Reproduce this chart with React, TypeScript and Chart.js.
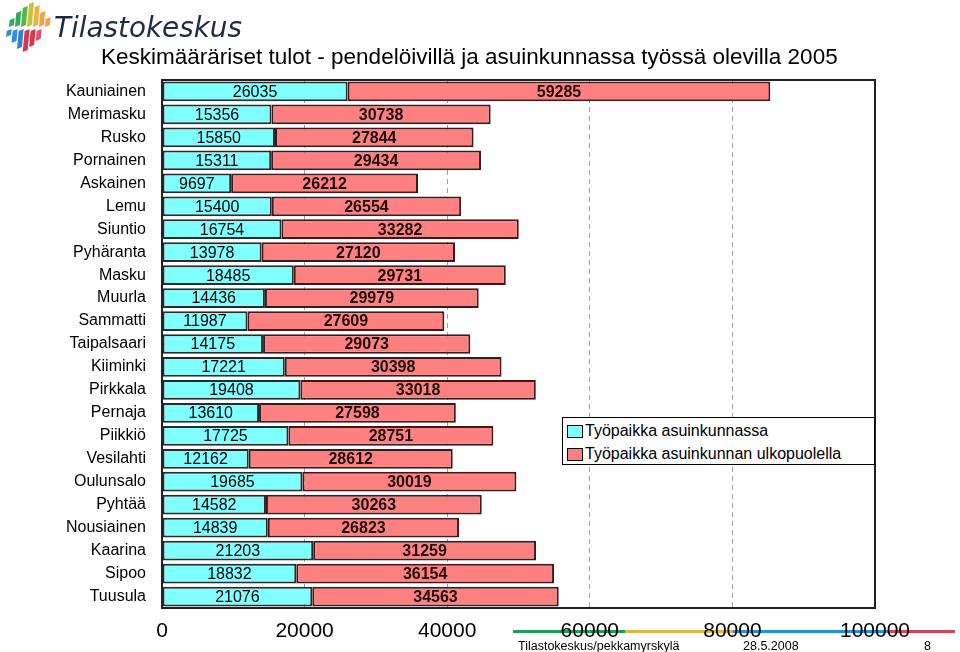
import React, { useEffect, useRef } from "react";
import { Chart, registerables } from "chart.js";

Chart.register(...registerables);

const categories = [
  "Kauniainen", "Merimasku", "Rusko", "Pornainen", "Askainen", "Lemu", "Siuntio",
  "Pyhäranta", "Masku", "Muurla", "Sammatti", "Taipalsaari", "Kiiminki", "Pirkkala",
  "Pernaja", "Piikkiö", "Vesilahti", "Oulunsalo", "Pyhtää", "Nousiainen", "Kaarina",
  "Sipoo", "Tuusula",
];
const inHomeMunicipality = [
  26035, 15356, 15850, 15311, 9697, 15400, 16754, 13978, 18485, 14436, 11987, 14175,
  17221, 19408, 13610, 17725, 12162, 19685, 14582, 14839, 21203, 18832, 21076,
];
const outsideHomeMunicipality = [
  59285, 30738, 27844, 29434, 26212, 26554, 33282, 27120, 29731, 29979, 27609, 29073,
  30398, 33018, 27598, 28751, 28612, 30019, 30263, 26823, 31259, 36154, 34563,
];
const seriesNames = ["Työpaikka asuinkunnassa", "Työpaikka asuinkunnan ulkopuolella"];
const titleText = "Keskimääräriset tulot - pendelöivillä ja asuinkunnassa työssä olevilla 2005";
const footerSource = "Tilastokeskus/pekkamyrskylä";
const footerDate = "28.5.2008";
const footerPage = "8";

const FONT = "Arial, 'Liberation Sans', sans-serif";
const CYAN = "#80FFFF";
const RED = "#FF8080";

const valueLabelPlugin = {
  id: "valueLabels",
  afterDatasetsDraw(chart: any) {
    const ctx = chart.ctx;
    ctx.save();
    ctx.textAlign = "center";
    ctx.textBaseline = "middle";
    chart.data.datasets.forEach((ds: any, di: number) => {
      const meta = chart.getDatasetMeta(di);
      ctx.font = di === 0 ? `16px ${FONT}` : `bold 16px ${FONT}`;
      ctx.fillStyle = di === 0 ? "#000" : "#1a1010";
      meta.data.forEach((el: any, i: number) => {
        const p = el.getProps(["x", "y", "base"], true);
        ctx.fillText(String(ds.data[i]), (p.x + p.base) / 2, p.y + 1);
      });
    });
    ctx.restore();
  },
};

const frameBorderPlugin = {
  id: "frameBorder",
  afterDatasetsDraw(chart: any) {
    const { ctx, chartArea: a } = chart;
    ctx.save();
    ctx.strokeStyle = "#222";
    ctx.lineWidth = 2;
    ctx.strokeRect(a.left, a.top, a.right - a.left, a.bottom - a.top);
    ctx.restore();
  },
};

function Logo() {
  const strips = [
    { x: 6, y1: 20, y2: 27, c: "#2eaa5c" },
    { x: 12, y1: 13, y2: 27, c: "#2eaa5c" },
    { x: 18, y1: 8, y2: 27, c: "#5bb548" },
    { x: 24, y1: 4, y2: 27, c: "#c9c23a" },
    { x: 30, y1: 7, y2: 27, c: "#e8b640" },
    { x: 36, y1: 13, y2: 27, c: "#eea44a" },
    { x: 42, y1: 19, y2: 27, c: "#eea44a" },
    { x: 4, y1: 31, y2: 37, c: "#2f8fde" },
    { x: 10, y1: 31, y2: 43, c: "#2f8fde" },
    { x: 16, y1: 31, y2: 49, c: "#3a7fd0" },
    { x: 22, y1: 31, y2: 52, c: "#d8384a" },
    { x: 28, y1: 31, y2: 47, c: "#d8384a" },
    { x: 34, y1: 31, y2: 41, c: "#e0506a" },
  ];
  return (
    <svg width={52} height={62} style={{ position: "absolute", left: 0, top: 0 }}>
      {strips.map((s, i) => {
        const sk = 0.09;
        const w = 5;
        const x1 = s.x + (60 - s.y1) * sk;
        const x2 = s.x + (60 - s.y2) * sk;
        return (
          <polygon
            key={i}
            points={`${x1},${s.y1} ${x1 + w},${s.y1 - 2} ${x2 + w},${s.y2 - 2} ${x2},${s.y2}`}
            fill={s.c}
          />
        );
      })}
    </svg>
  );
}

export default function App() {
  const canvasRef = useRef<HTMLCanvasElement | null>(null);

  useEffect(() => {
    if (!canvasRef.current) return;
    const chart = new Chart(canvasRef.current, {
      type: "bar",
      data: {
        labels: categories,
        datasets: [
          {
            label: seriesNames[0],
            data: inHomeMunicipality,
            backgroundColor: CYAN,
            borderColor: "#2a2a2a",
            borderWidth: 2,
            borderSkipped: false,
            barPercentage: 0.86,
            categoryPercentage: 1,
          },
          {
            label: seriesNames[1],
            data: outsideHomeMunicipality,
            backgroundColor: RED,
            borderColor: "#3a1a1a",
            borderWidth: 2,
            borderSkipped: false,
            barPercentage: 0.86,
            categoryPercentage: 1,
          },
        ],
      },
      options: {
        indexAxis: "y",
        responsive: false,
        animation: false,
        devicePixelRatio: 1,
        layout: { padding: { top: 80, right: 85, left: 0, bottom: 0 } },
        plugins: {
          legend: { display: false },
          title: { display: false },
          tooltip: { enabled: false },
        },
        scales: {
          x: {
            stacked: true,
            min: 0,
            max: 100000,
            afterFit: (s: any) => {
              s.height = 44;
            },
            ticks: {
              stepSize: 20000,
              font: { family: FONT, size: 21 },
              color: "#000",
              padding: 11,
              maxRotation: 0,
              autoSkip: false,
              callback: (v: any) => String(v),
            },
            grid: {
              drawTicks: false,
              color: (c: any) =>
                c.tick && (c.tick.value === 0 || c.tick.value === 100000) ? "rgba(0,0,0,0)" : "#a0a0a0",
              lineWidth: 1,
            },
            border: { display: false, dash: [5, 4] },
          },
          y: {
            stacked: true,
            afterFit: (s: any) => {
              s.width = 162;
            },
            ticks: {
              font: { family: FONT, size: 16 },
              color: "#000",
              padding: 16,
              autoSkip: false,
            },
            grid: { display: false, drawTicks: false },
            border: { display: false },
          },
        },
      },
      plugins: [valueLabelPlugin, frameBorderPlugin],
    } as any);
    return () => chart.destroy();
  }, []);

  const lineSegs = [
    { l: 513, r: 625, c: "#1a9e5a" },
    { l: 625, r: 733, c: "#e4b442" },
    { l: 733, r: 890, c: "#1e90e0" },
    { l: 890, r: 955, c: "#d2445a" },
  ];

  return (
    <div
      style={{
        position: "fixed",
        left: 0,
        top: 0,
        width: 960,
        height: 652,
        background: "#fff",
        overflow: "hidden",
        fontFamily: FONT,
      }}
    >
      {lineSegs.map((s, i) => (
        <div
          key={i}
          style={{ position: "absolute", left: s.l, top: 630, width: s.r - s.l, height: 3, background: s.c }}
        />
      ))}
      <canvas
        ref={canvasRef}
        width={960}
        height={652}
        style={{ position: "absolute", left: 0, top: 0, width: 960, height: 652 }}
      />
      <Logo />
      <div
        style={{
          position: "absolute",
          left: 54,
          top: 10,
          fontSize: 29,
          fontFamily: "'DejaVu Sans', sans-serif",
          fontStyle: "italic",
          color: "#1e2a48",
          lineHeight: "34px",
          whiteSpace: "nowrap",
          transform: "scaleX(0.96)",
          transformOrigin: "left",
        }}
      >
        Tilastokeskus
      </div>
      <div
        style={{
          position: "absolute",
          left: 101,
          top: 44,
          fontSize: 22.5,
          lineHeight: "26px",
          color: "#000",
          whiteSpace: "nowrap",
        }}
      >
        {titleText}
      </div>
      <div
        style={{
          position: "absolute",
          left: 562,
          top: 417,
          width: 311,
          height: 46,
          border: "1px solid #000",
          background: "#fff",
          fontSize: 16,
          color: "#000",
        }}
      >
        {seriesNames.map((n, i) => (
          <div
            key={i}
            style={{ position: "absolute", left: 4, top: 3 + i * 23, height: 20, display: "flex", alignItems: "center", whiteSpace: "nowrap" }}
          >
            <span
              style={{
                display: "inline-block",
                width: 14,
                height: 11,
                background: i === 0 ? CYAN : RED,
                border: "1px solid #000",
                marginRight: 2,
              }}
            />
            {n}
          </div>
        ))}
      </div>
      <div style={{ position: "absolute", left: 518, top: 638, fontSize: 12.5, lineHeight: "16px", whiteSpace: "nowrap" }}>
        {footerSource}
      </div>
      <div style={{ position: "absolute", left: 743, top: 638, fontSize: 12.5, lineHeight: "16px", whiteSpace: "nowrap" }}>
        {footerDate}
      </div>
      <div style={{ position: "absolute", left: 924, top: 638, fontSize: 12.5, lineHeight: "16px" }}>{footerPage}</div>
    </div>
  );
}
